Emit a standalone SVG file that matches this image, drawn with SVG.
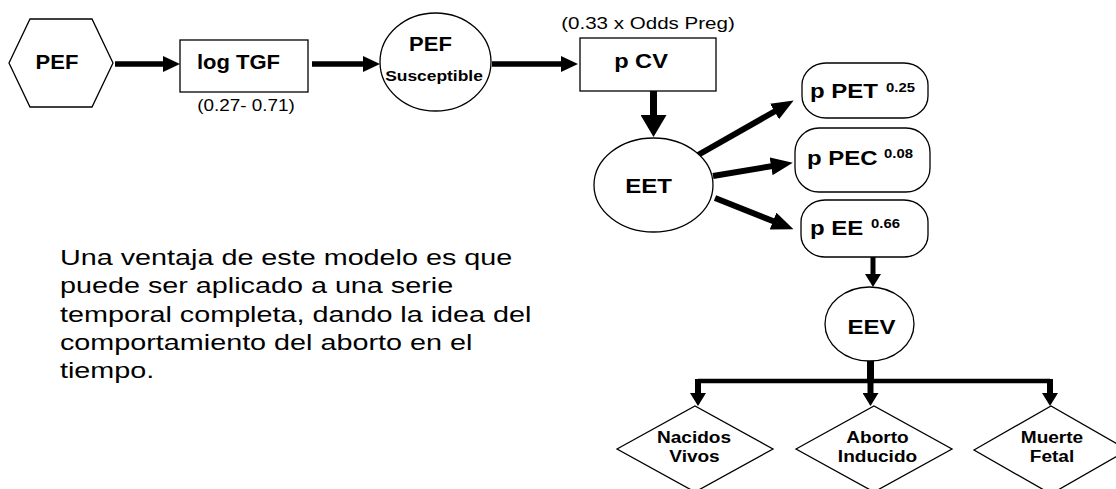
<svg xmlns="http://www.w3.org/2000/svg" width="1116" height="489" viewBox="0 0 1116 489">
<style>
text{font-family:"Liberation Sans",Arial,sans-serif;fill:#000}
.b{font-weight:bold}
.shape{fill:#fff;stroke:#000;stroke-width:1.3}
.arr{stroke:#000;fill:none}
</style>
<defs>
<marker id="ah" markerUnits="userSpaceOnUse" markerWidth="17" markerHeight="16" refX="7" refY="8" orient="auto" viewBox="0 0 17 16"><path d="M0,0 L17,8 L0,16 z" fill="#000"/></marker>
<marker id="ahv" markerUnits="userSpaceOnUse" markerWidth="22" markerHeight="26" refX="8" refY="13" orient="auto" viewBox="0 0 22 26"><path d="M0,0 L22,13 L0,26 z" fill="#000"/></marker>
<marker id="ahd" markerUnits="userSpaceOnUse" markerWidth="22" markerHeight="18" refX="8" refY="9" orient="auto" viewBox="0 0 22 18"><path d="M0,0 L22,9 L0,18 z" fill="#000"/></marker>
<marker id="ahs" markerUnits="userSpaceOnUse" markerWidth="13" markerHeight="16" refX="5" refY="8" orient="auto" viewBox="0 0 13 16"><path d="M0,0 L13,8 L0,16 z" fill="#000"/></marker>
</defs>
<rect width="1116" height="489" fill="#fff"/>

<g id="connectors">
<line class="arr" x1="115" y1="64" x2="170" y2="64" stroke-width="5.5" marker-end="url(#ah)"/>
<line class="arr" x1="312" y1="64" x2="370" y2="64" stroke-width="5.5" marker-end="url(#ah)"/>
<line class="arr" x1="492" y1="64" x2="568" y2="64" stroke-width="5.5" marker-end="url(#ah)"/>
<line class="arr" x1="653.5" y1="91" x2="653.5" y2="123" stroke-width="7" marker-end="url(#ahv)"/>
<line class="arr" x1="698" y1="155" x2="781.5" y2="107.5" stroke-width="6" marker-end="url(#ahd)"/>
<line class="arr" x1="713" y1="176" x2="779" y2="165" stroke-width="6" marker-end="url(#ahd)"/>
<line class="arr" x1="715" y1="198" x2="780.5" y2="224" stroke-width="6" marker-end="url(#ahd)"/>
<line class="arr" x1="873" y1="257" x2="873" y2="279" stroke-width="5" marker-end="url(#ahs)"/>
<polyline class="arr" points="870.5,361 870.5,381" stroke-width="7"/>
<line class="arr" x1="698" y1="381" x2="1050" y2="381" stroke-width="4.5"/>
<line class="arr" x1="698" y1="379" x2="698" y2="398" stroke-width="6" marker-end="url(#ahs)"/>
<line class="arr" x1="870.5" y1="379" x2="870.5" y2="398" stroke-width="6" marker-end="url(#ahs)"/>
<line class="arr" x1="1050" y1="379" x2="1050" y2="398" stroke-width="6" marker-end="url(#ahs)"/>
</g>

<g id="node-pef">
<polygon class="shape" points="9,63 30,19 92,19 113,63 92,107 30,107"/>
<text class="b" font-size="20" text-anchor="middle" transform="translate(57,69) scale(1.1,1)">PEF</text>
</g>

<g id="node-logtgf">
<rect class="shape" x="180" y="40" width="128" height="52"/>
<text class="b" font-size="20" text-anchor="middle" transform="translate(238.5,69) scale(1.1,1)">log TGF</text>
<text font-size="16" text-anchor="middle" transform="translate(246,111) scale(1.18,1)">(0.27- 0.71)</text>
</g>

<g id="node-pef-susceptible">
<ellipse class="shape" cx="435.5" cy="62" rx="55.5" ry="49"/>
<text class="b" font-size="20" text-anchor="middle" transform="translate(430.5,50.7) scale(1.1,1)">PEF</text>
<text class="b" font-size="15" text-anchor="middle" transform="translate(434,81) scale(1.16,1)">Susceptible</text>
</g>

<g id="node-pcv">
<rect class="shape" x="580" y="38" width="136" height="53"/>
<text class="b" font-size="20" text-anchor="middle" transform="translate(641,68) scale(1.18,1)">p CV</text>
<text font-size="17" text-anchor="middle" transform="translate(648,29) scale(1.21,1)">(0.33 x Odds Preg)</text>
</g>

<g id="node-eet">
<ellipse class="shape" cx="653.5" cy="185" rx="59.5" ry="47"/>
<text class="b" font-size="20" text-anchor="middle" transform="translate(648.5,193) scale(1.2,1)">EET</text>
</g>

<g id="node-ppet">
<rect class="shape" x="802" y="63" width="126" height="55" rx="24" ry="22"/>
<text class="b" font-size="20" transform="translate(810,97.7) scale(1.2,1)">p PET</text>
<text class="b" font-size="12" transform="translate(886,91.7) scale(1.24,1)">0.25</text>
</g>

<g id="node-ppec">
<rect class="shape" x="795" y="128" width="135" height="64" rx="24" ry="24"/>
<text class="b" font-size="20" transform="translate(807,165) scale(1.2,1)">p PEC</text>
<text class="b" font-size="12" transform="translate(884,158) scale(1.24,1)">0.08</text>
</g>

<g id="node-pee">
<rect class="shape" x="801" y="200" width="127" height="57" rx="24" ry="22"/>
<text class="b" font-size="20" transform="translate(810,235) scale(1.2,1)">p EE</text>
<text class="b" font-size="12" transform="translate(871,228) scale(1.24,1)">0.66</text>
</g>

<g id="node-eev">
<ellipse class="shape" cx="869.5" cy="324" rx="44.5" ry="37"/>
<text class="b" font-size="20" text-anchor="middle" transform="translate(871.5,334) scale(1.2,1)">EEV</text>
</g>

<g id="node-nacidos">
<polygon class="shape" points="617,449 695,406 773,449 695,492"/>
<text class="b" font-size="16" text-anchor="middle" transform="translate(694,443) scale(1.19,1)">Nacidos</text>
<text class="b" font-size="16" text-anchor="middle" transform="translate(694.5,461.7) scale(1.19,1)">Vivos</text>
</g>

<g id="node-aborto">
<polygon class="shape" points="796,449 874,406 952,449 874,492"/>
<text class="b" font-size="16" text-anchor="middle" transform="translate(877.5,443) scale(1.19,1)">Aborto</text>
<text class="b" font-size="16" text-anchor="middle" transform="translate(877.5,461.7) scale(1.19,1)">Inducido</text>
</g>

<g id="node-muerte">
<polygon class="shape" points="974,450 1051,406 1128,450 1051,494"/>
<text class="b" font-size="16" text-anchor="middle" transform="translate(1052,443) scale(1.19,1)">Muerte</text>
<text class="b" font-size="16" text-anchor="middle" transform="translate(1052,461.7) scale(1.19,1)">Fetal</text>
</g>

<g id="paragraph" transform="translate(60,0) scale(1.307,1)">
<text font-size="22" x="0" y="265">Una ventaja de este modelo es que</text>
<text font-size="22" x="0" y="293.3">puede ser aplicado a una serie</text>
<text font-size="22" x="0" y="321.7">temporal completa, dando la idea del</text>
<text font-size="22" x="0" y="350">comportamiento del aborto en el</text>
<text font-size="22" x="0" y="378.3">tiempo.</text>
</g>
</svg>
